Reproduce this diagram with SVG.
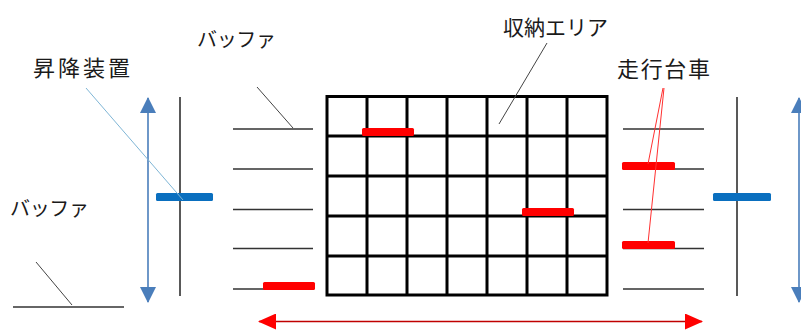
<svg xmlns="http://www.w3.org/2000/svg" width="801" height="331" viewBox="0 0 801 331">
<defs>
<style>
.lbl{font-family:"Noto Sans CJK JP","Noto Sans",sans-serif;fill:#1a1a1a}
.grid{stroke:#000;stroke-width:3;fill:none}
.buf{stroke:#333;stroke-width:1.3}
.rail{stroke:#595959;stroke-width:2}
.cart{fill:#ff0000}
.lift{fill:#0a6fbf}
.lead{stroke:#444;stroke-width:1;fill:none}
.barrow{stroke:#4a7ebb;stroke-width:1.6}
</style>
<marker id="bh" viewBox="0 0 16 16" refX="15" refY="8" markerWidth="16" markerHeight="16" markerUnits="userSpaceOnUse" orient="auto-start-reverse">
<path d="M0,0 L16,8 L0,16 Z" fill="#4a7ebb"/>
</marker>
<marker id="rh" viewBox="0 0 18 16" refX="17" refY="8" markerWidth="18" markerHeight="16" markerUnits="userSpaceOnUse" orient="auto-start-reverse">
<path d="M0,0 L18,8 L0,16 Z" fill="#ff0000"/>
</marker>
</defs>
<rect width="801" height="331" fill="#fff"/>

<g id="storage-grid">
<rect class="grid" x="327" y="96.5" width="280" height="198.5"/>
<path class="grid" d="M367,96.5V295M407,96.5V295M447,96.5V295M487,96.5V295M527,96.5V295M567,96.5V295M327,136H607M327,176H607M327,216H607M327,256H607"/>
</g>

<g id="buffer-left">
<path class="buf" d="M233,129H313M233,169H313M233,209.5H313M233,248.5H313M233,289H313"/>
</g>
<g id="buffer-right">
<path class="buf" d="M623,129H704M623,169H704M623,209.5H704M623,248.5H704M623,289H704"/>
</g>
<g id="buffer-far-left">
<path class="buf" d="M13,307H124"/>
</g>

<g id="lift-left">
<line class="rail" x1="180" y1="97" x2="180" y2="296"/>
<rect class="lift" x="156" y="193" width="57" height="8" rx="1.5"/>
</g>
<g id="lift-right">
<line class="rail" x1="737" y1="97" x2="737" y2="296"/>
<rect class="lift" x="713" y="193" width="58" height="8" rx="1.5"/>
</g>

<g id="carts">
<rect class="cart" x="362" y="128" width="52" height="8" rx="1.5"/>
<rect class="cart" x="522" y="208" width="52" height="8" rx="1.5"/>
<rect class="cart" x="263" y="282" width="52" height="8" rx="1.5"/>
<rect class="cart" x="622" y="162" width="53" height="8" rx="1.5"/>
<rect class="cart" x="622" y="241" width="53" height="8" rx="1.5"/>
</g>

<g id="connectors">
<line class="barrow" x1="148" y1="98" x2="148" y2="302" marker-start="url(#bh)" marker-end="url(#bh)"/>
<line class="barrow" x1="799" y1="98" x2="799" y2="302" marker-start="url(#bh)" marker-end="url(#bh)"/>
<line x1="259" y1="321.5" x2="702" y2="321.5" stroke="#c00000" stroke-width="1.3" marker-start="url(#rh)" marker-end="url(#rh)"/>
<line x1="86" y1="88" x2="183" y2="200" stroke="#7fb6d6" stroke-width="1"/>
<line class="lead" x1="257" y1="87" x2="293" y2="128"/>
<line class="lead" x1="36" y1="262" x2="72" y2="305"/>
<line class="lead" x1="547" y1="43" x2="499" y2="124"/>
<path d="M663,88L648,164M664,88L648,243" stroke="#ff3030" stroke-width="1" fill="none"/>
</g>

<g id="labels">
<text class="lbl" x="33" y="76" font-size="22" textLength="97" lengthAdjust="spacing">昇降装置</text>
<text class="lbl" x="197" y="47" font-size="20" textLength="79" lengthAdjust="spacing">バッファ</text>
<text class="lbl" x="10" y="216" font-size="20" textLength="79" lengthAdjust="spacing">バッファ</text>
<text class="lbl" x="503" y="35" font-size="21" textLength="105" lengthAdjust="spacing">収納エリア</text>
<text class="lbl" x="617" y="77" font-size="22" textLength="93" lengthAdjust="spacing">走行台車</text>
</g>
</svg>
